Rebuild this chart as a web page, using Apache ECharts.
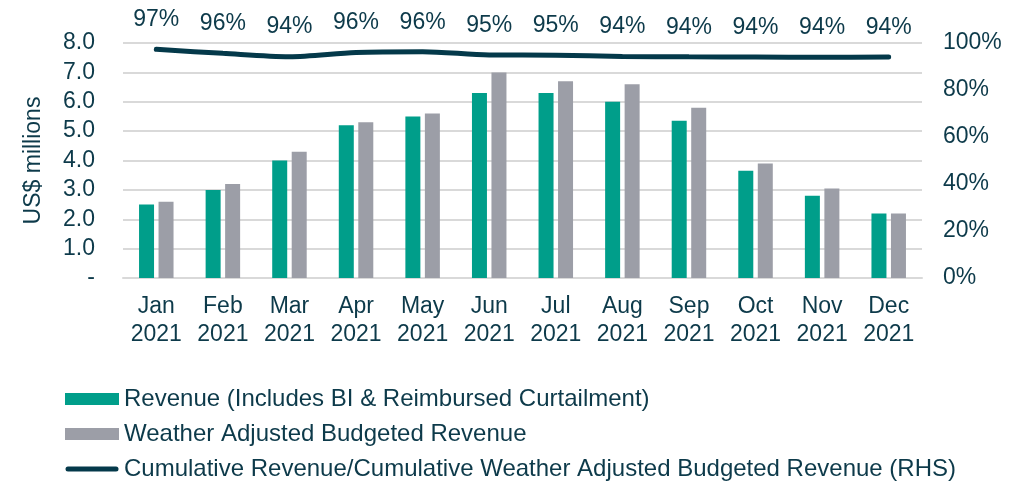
<!DOCTYPE html>
<html>
<head>
<meta charset="utf-8">
<script src="https://cdn.jsdelivr.net/npm/echarts@6/dist/echarts.min.js"></script>
<style>
  html, body { margin: 0; padding: 0; background: #fff; }
  #chart { width: 1030px; height: 481px; }
</style>
</head>
<body>
<div id="chart"></div>
<script>
// data
const months = ["Jan\n2021", "Feb\n2021", "Mar\n2021", "Apr\n2021", "May\n2021", "Jun\n2021",
  "Jul\n2021", "Aug\n2021", "Sep\n2021", "Oct\n2021", "Nov\n2021", "Dec\n2021"];
const revenue = [2.5, 3.0, 4.0, 5.2, 5.5, 6.3, 6.3, 6.0, 5.35, 3.65, 2.8, 2.2];
const budget = [2.6, 3.2, 4.3, 5.3, 5.6, 7.0, 6.7, 6.6, 5.8, 3.9, 3.05, 2.2];
const cumRatio = [97.3, 95.6, 94.2, 96.0, 96.3, 94.9, 94.8, 94.3, 94.1, 94.0, 93.9, 94.0];

const textColor = "#0d3a4a";
const sans = "Liberation Sans, Arial, sans-serif";
// thin rounded bar inside a 54x12 box (corner points keep the box size)
const lineIcon = "path://M0,0L0,0M54,12L54,12M3,3.5L51,3.5A2.5,2.5,0,0,1,51,8.5L3,8.5A2.5,2.5,0,0,1,3,3.5Z";

const chart = echarts.init(document.getElementById("chart"));
chart.setOption({
  animation: false,
  grid: { left: 123, right: 108, top: 43, bottom: 203 },
  legend: {
    orient: "vertical",
    left: 60,
    top: 382,
    height: 140,
    itemWidth: 54,
    itemHeight: 12,
    itemGap: 11,
    textStyle: { color: textColor, fontSize: 24, fontFamily: sans, lineHeight: 24 },
    data: [
      { name: "Revenue (Includes BI & Reimbursed Curtailment)", icon: "rect" },
      { name: "Weather Adjusted Budgeted Revenue", icon: "rect" },
      { name: "Cumulative Revenue/Cumulative Weather Adjusted Budgeted Revenue (RHS)", icon: lineIcon },
    ],
  },
  xAxis: {
    type: "category",
    data: months,
    axisTick: { show: false },
    axisLine: { lineStyle: { color: "#d9d9d9", width: 2 } },
    axisLabel: { color: textColor, fontSize: 23, fontFamily: sans, lineHeight: 28, margin: 15 },
  },
  yAxis: [
    {
      type: "value",
      min: 0,
      max: 8,
      interval: 1,
      name: "US$ millions",
      nameLocation: "middle",
      nameRotate: 90,
      nameGap: 78,
      nameTextStyle: { color: textColor, fontSize: 23, fontFamily: sans },
      axisLine: { show: false },
      axisTick: { show: false },
      splitLine: { lineStyle: { color: "#d9d9d9", width: 2 } },
      axisLabel: {
        color: textColor, fontSize: 23, fontFamily: sans, margin: 28,
        formatter: v => (v === 0 ? "-" : v.toFixed(1)),
      },
    },
    {
      type: "value",
      min: 0,
      max: 100,
      interval: 20,
      position: "right",
      axisLine: { show: false },
      axisTick: { show: false },
      splitLine: { show: false },
      axisLabel: { color: textColor, fontSize: 23, fontFamily: sans, margin: 21, formatter: "{value}%" },
    },
  ],
  series: [
    {
      name: "Revenue (Includes BI & Reimbursed Curtailment)",
      type: "bar",
      data: revenue,
      barWidth: 15,
      barGap: "30%",
      itemStyle: { color: "#009e8a" },
    },
    {
      name: "Weather Adjusted Budgeted Revenue",
      type: "bar",
      data: budget,
      barWidth: 15,
      itemStyle: { color: "#9c9ea7" },
    },
    {
      name: "Cumulative Revenue/Cumulative Weather Adjusted Budgeted Revenue (RHS)",
      type: "line",
      yAxisIndex: 1,
      data: cumRatio,
      smooth: 0.3,
      showSymbol: true,
      symbol: "circle",
      symbolSize: 0,
      lineStyle: { color: "#04394a", width: 5, cap: "round" },
      itemStyle: { color: "#04394a" },
      label: {
        show: true,
        position: "top",
        distance: 18,
        color: textColor,
        fontSize: 23,
        fontFamily: sans,
        formatter: p => Math.round(p.value) + "%",
      },
    },
  ],
});
</script>
</body>
</html>
